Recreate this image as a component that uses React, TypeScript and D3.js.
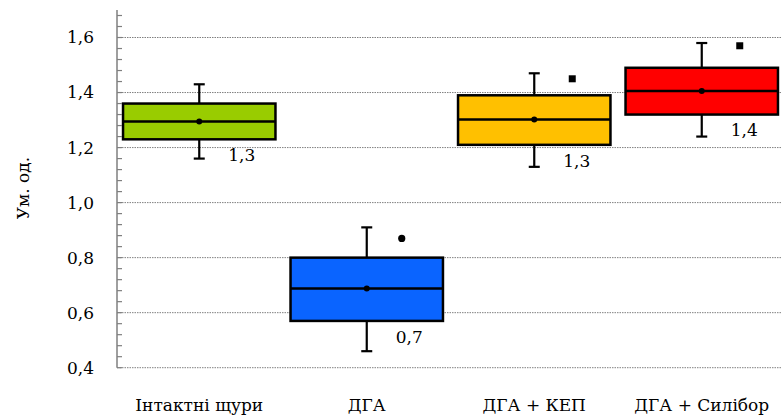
import React from "react";
import * as d3 from "d3";

// groups and box statistics
const categories = ["Інтактні щури", "ДГА", "ДГА + КЕП", "ДГА + Силібор"];
const colors = ["#99CC00", "#0A64FF", "#FFC000", "#FF0000"];
const whiskerLow = [1.16, 0.46, 1.13, 1.24];
const q1 = [1.23, 0.57, 1.21, 1.32];
const medians = [1.295, 0.688, 1.302, 1.406];
const means = [1.295, 0.688, 1.302, 1.406];
const q3 = [1.36, 0.80, 1.39, 1.49];
const whiskerHigh = [1.43, 0.91, 1.47, 1.58];
const outliers = [null, 0.87, 1.45, 1.57];
const outlierShapes = ["none", "circle", "square", "square"];
const meanLabels = ["1,3", "0,7", "1,3", "1,4"];
const majorTicks = [0.4, 0.6, 0.8, 1.0, 1.2, 1.4, 1.6];
const yTitle = "Ум. од.";

const W = 782;
const H = 416;
const axisX = 117;
const SERIF = "DejaVu Serif";

export default function App() {
  const y = d3.scaleLinear().domain([0.4, 1.7]).range([367.7, 10]);
  const x = d3
    .scaleBand<string>()
    .domain(categories)
    .range([axisX - 1.5, axisX - 1.5 + 670])
    .paddingInner(0.09)
    .paddingOuter(0.045);
  const minorTicks = d3.range(0, 33).map((i) => 0.4 + i * 0.04);
  const fmt = (v: number) => v.toFixed(1).replace(".", ",");

  return (
    <svg
      width={W}
      height={H}
      style={{ position: "absolute", left: 0, top: 0, background: "#fff" }}
    >
      {/* gridlines */}
      {majorTicks.map((t) => (
        <line
          key={"g" + t}
          x1={axisX}
          x2={W}
          y1={y(t)}
          y2={y(t)}
          stroke="#808080"
          strokeWidth={1}
          strokeDasharray="1.5,1"
        />
      ))}

      {/* boxes */}
      {categories.map((c, i) => {
        const bx = x(c)!;
        const bw = x.bandwidth();
        const cx = bx + bw / 2;
        const cap = 5.5;
        const o = outliers[i];
        const ox = cx + 38;
        return (
          <g key={c}>
            <line x1={cx} x2={cx} y1={y(whiskerHigh[i])} y2={y(q3[i])} stroke="#000" strokeWidth={2.2} />
            <line x1={cx} x2={cx} y1={y(q1[i])} y2={y(whiskerLow[i])} stroke="#000" strokeWidth={2.2} />
            <line x1={cx - cap} x2={cx + cap} y1={y(whiskerHigh[i])} y2={y(whiskerHigh[i])} stroke="#000" strokeWidth={2.2} />
            <line x1={cx - cap} x2={cx + cap} y1={y(whiskerLow[i])} y2={y(whiskerLow[i])} stroke="#000" strokeWidth={2.2} />
            <rect
              x={bx}
              y={y(q3[i])}
              width={bw}
              height={y(q1[i]) - y(q3[i])}
              fill={colors[i]}
              stroke="#000"
              strokeWidth={2.5}
            />
            <line x1={bx} x2={bx + bw} y1={y(medians[i])} y2={y(medians[i])} stroke="#000" strokeWidth={2.5} />
            <circle cx={cx} cy={y(means[i])} r={3} fill="#000" />
            {o !== null && outlierShapes[i] === "circle" && (
              <circle cx={ox - 3} cy={y(o)} r={3.6} fill="#000" />
            )}
            {o !== null && outlierShapes[i] === "square" && (
              <rect x={ox - 3.5} y={y(o) - 3.5} width={7} height={7} fill="#000" />
            )}
            <text
              x={cx + 29}
              y={y(q1[i]) + 9}
              dominantBaseline="hanging"
              fontFamily={SERIF}
              fontSize={17}
              fill="#000"
            >
              {meanLabels[i]}
            </text>
            <text x={cx} y={411} textAnchor="middle" fontFamily={SERIF} fontSize={17} fill="#000">
              {c}
            </text>
          </g>
        );
      })}

      {/* y axis */}
      <line x1={axisX} x2={axisX} y1={y(1.7)} y2={y(0.4)} stroke="#7f7f7f" strokeWidth={1.5} />
      {minorTicks.map((t) => (
        <line
          key={"m" + t.toFixed(2)}
          x1={axisX}
          x2={axisX + 5}
          y1={y(t)}
          y2={y(t)}
          stroke="#7f7f7f"
          strokeWidth={1.2}
        />
      ))}
      {majorTicks.map((t) => (
        <text
          key={"l" + t}
          x={94}
          y={y(t)}
          dy="0.35em"
          textAnchor="end"
          fontFamily={SERIF}
          fontSize={17}
          fill="#000"
        >
          {fmt(t)}
        </text>
      ))}
      <text
        transform={`translate(29,188) rotate(-90)`}
        textAnchor="middle"
        fontFamily={SERIF}
        fontSize={17}
        fill="#000"
      >
        {yTitle}
      </text>
    </svg>
  );
}
